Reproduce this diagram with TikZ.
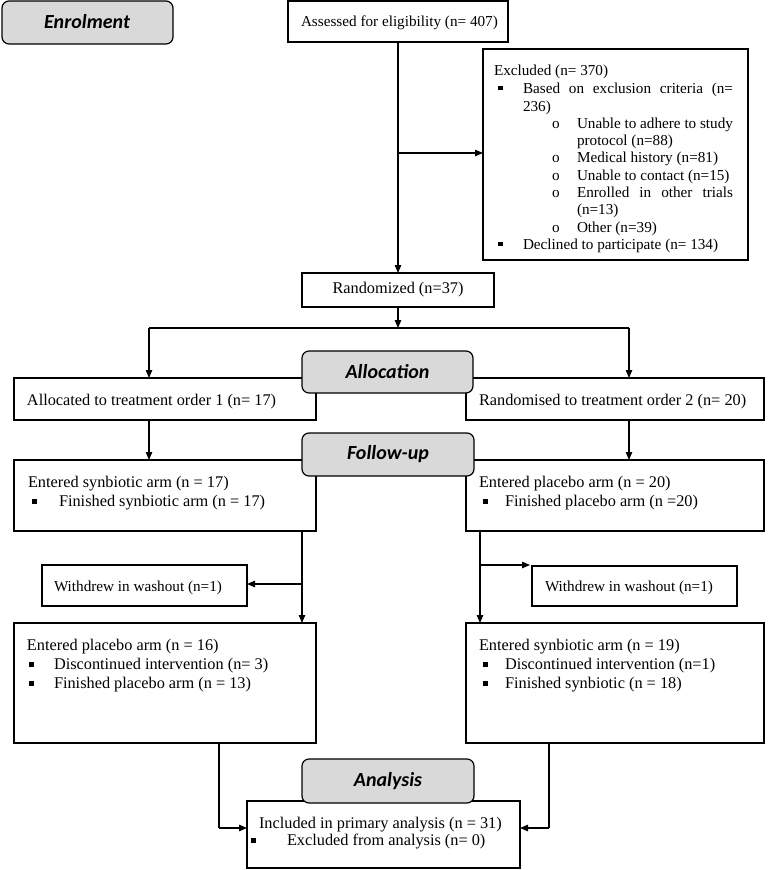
\documentclass[tikz,border=0pt]{standalone}
\usepackage{fontspec}
\setmainfont{Liberation Serif}
\newfontfamily\hdrfont{Carlito}
\usetikzlibrary{arrows.meta,calc}
\definecolor{hdrgray}{HTML}{D9D9D9}
\newcommand{\sqb}{\raisebox{2.6pt}{\rule{4.6pt}{4.6pt}}}
\newcommand{\fs}{\fontsize{16.3}{17.4}\selectfont}
\newcommand{\fsm}{\fontsize{15.2}{17.4}\selectfont}
\tikzset{
  boxr/.style={draw=black, line width=1.1pt, fill=white, inner sep=0pt, outer sep=0pt, anchor=north west},
  hdr/.style={draw=black, line width=1.2pt, fill=hdrgray, rounded corners=7pt, inner sep=0pt, outer sep=0pt, anchor=north west,
     font=\hdrfont\bfseries\itshape\fontsize{20}{22}\selectfont},
  txt/.style={inner sep=0pt, outer sep=0pt, anchor=base west, font=\fs},
  txts/.style={inner sep=0pt, outer sep=0pt, anchor=base west, font=\fsm},
  arr/.style={line width=1.1pt, -{Triangle[length=8pt,width=6.5pt]}},
  ln/.style={line width=1.1pt}
}
\begin{document}
\begin{tikzpicture}[x=1pt,y=-1pt]
\useasboundingbox (0,0) rectangle (768,870);
% boxes
\node[hdr, minimum width=171pt, minimum height=43pt] (enrol) at (2,1) {};
\node[font=\hdrfont\bfseries\itshape\fontsize{20}{22}\selectfont, inner sep=0pt] (enrolT) at (87,22) {Enrolment};
\node[boxr, minimum width=220pt, minimum height=41pt] (assess) at (288,1) {};
\node[boxr, minimum width=265pt, minimum height=211pt] (excl) at (483,49) {};
\node[boxr, minimum width=192pt, minimum height=34pt] (rand) at (302,273) {};
\node[boxr, minimum width=302pt, minimum height=42pt] (alloc1) at (14,378) {};
\node[boxr, minimum width=298pt, minimum height=42pt] (alloc2) at (466,378) {};
\node[boxr, minimum width=302pt, minimum height=71pt] (syn1) at (14,460) {};
\node[boxr, minimum width=298pt, minimum height=71pt] (plc1) at (466,460) {};
\node[boxr, minimum width=205pt, minimum height=41pt] (wd1) at (42,565) {};
\node[boxr, minimum width=205pt, minimum height=40pt] (wd2) at (532,566) {};
\node[boxr, minimum width=302pt, minimum height=120pt] (plc2) at (14,623) {};
\node[boxr, minimum width=298pt, minimum height=120pt] (syn2) at (466,623) {};
\node[boxr, minimum width=273pt, minimum height=67pt] (incl) at (247,801) {};
% headers
\node[hdr, minimum width=171pt, minimum height=42pt] (allochdr) at (302,351) {};
\node[hdr, minimum width=172pt, minimum height=43pt] (followhdr) at (302,433) {};
\node[hdr, minimum width=172pt, minimum height=44pt] (anahdr) at (302,759) {};
\node[font=\hdrfont\bfseries\itshape\fontsize{20}{22}\selectfont, inner sep=0pt] (allocT) at (allochdr.center) {Allocation};
\node[font=\hdrfont\bfseries\itshape\fontsize{20}{22}\selectfont, inner sep=0pt] (followT) at (followhdr.center) {Follow-up};
\node[font=\hdrfont\bfseries\itshape\fontsize{20}{22}\selectfont, inner sep=0pt] (anaT) at (anahdr.center) {Analysis};
% texts
\node[txts] (tAssess) at (301,26.5) {Assessed for eligibility (n= 407)};
\node[txts] (tE0) at (494,75) {Excluded (n= 370)};
\node[txts] (tE1b) at (498,93) {\sqb};
\node[txts] (tE1) at (523,93) {\makebox[210pt][s]{Based on exclusion criteria (n=}};
\node[txts] (tE2) at (523,111) {236)};
\node[txts] (tE3o) at (552,128) {o};
\node[txts] (tE3) at (577,128) {\makebox[156pt][s]{Unable to adhere to study}};
\node[txts] (tE4) at (577,145) {protocol (n=88)};
\node[txts] (tE5o) at (552,162) {o};
\node[txts] (tE5) at (577,162) {Medical history (n=81)};
\node[txts] (tE6o) at (552,180) {o};
\node[txts] (tE6) at (577,180) {Unable to contact (n=15)};
\node[txts] (tE7o) at (552,197) {o};
\node[txts] (tE7) at (577,197) {\makebox[156pt][s]{Enrolled in other trials}};
\node[txts] (tE8) at (577,214) {(n=13)};
\node[txts] (tE9o) at (552,232) {o};
\node[txts] (tE9) at (577,232) {Other (n=39)};
\node[txts] (tE10b) at (498,249) {\sqb};
\node[txts] (tE10) at (523,249) {Declined to participate (n= 134)};
\node[txt, anchor=center] (tRand) at (398,290) {Randomized (n=37)};
\node[txt] (tA1) at (27,405.5) {Allocated to treatment order 1 (n= 17)};
\node[txt] (tA2) at (479,405.5) {Randomised to treatment order 2 (n= 20)};
\node[txt] (tS1a) at (28,487.5) {Entered synbiotic arm (n = 17)};
\node[txt] (tS1bb) at (32,506.5) {\sqb};
\node[txt] (tS1b) at (59,506.5) {Finished synbiotic arm (n = 17)};
\node[txt] (tP1a) at (479,487.5) {Entered placebo arm (n = 20)};
\node[txt] (tP1bb) at (483,506.5) {\sqb};
\node[txt] (tP1b) at (505,506.5) {Finished placebo arm (n =20)};
\node[txts] (tW1) at (54,591) {Withdrew in washout (n=1)};
\node[txts] (tW2) at (545,591) {Withdrew in washout (n=1)};
\node[txt] (tP2a) at (27,650.5) {Entered placebo arm (n = 16)};
\node[txt] (tP2bb) at (29,669.5) {\sqb};
\node[txt] (tP2b) at (54,669.5) {Discontinued intervention (n= 3)};
\node[txt] (tP2cb) at (29,688.5) {\sqb};
\node[txt] (tP2c) at (54,688.5) {Finished placebo arm (n = 13)};
\node[txt] (tS2a) at (479,650.5) {Entered synbiotic arm (n = 19)};
\node[txt] (tS2bb) at (483,669.5) {\sqb};
\node[txt] (tS2b) at (505,669.5) {Discontinued intervention (n=1)};
\node[txt] (tS2cb) at (483,688.5) {\sqb};
\node[txt] (tS2c) at (505,688.5) {Finished synbiotic (n = 18)};
\node[txt] (tI1) at (259,828.5) {Included in primary analysis (n = 31)};
\node[txt] (tI2b) at (251,845.5) {\sqb};
\node[txt] (tI2) at (287,845.5) {Excluded from analysis (n= 0)};
% connectors
\coordinate (br0) at (398,153);
\draw[arr] (assess.south) -- (rand.north);
\draw[arr] (br0) -- (br0 -| excl.west);
\coordinate (split) at (398,328);
\coordinate (splitL) at (149,328);
\coordinate (splitR) at (629,328);
\draw[arr] (rand.south) -- (split);
\draw[ln] (splitL) -- (splitR);
\draw[arr] (splitL) -- (splitL |- alloc1.north);
\draw[arr] (splitR) -- (splitR |- alloc2.north);
\draw[arr] (alloc1.south -| splitL) -- (splitL |- syn1.north);
\draw[arr] (alloc2.south -| splitR) -- (splitR |- plc1.north);
\coordinate (dL) at (302,584);
\draw[arr] (syn1.south -| dL) -- (dL |- plc2.north);
\draw[arr] (dL) -- (dL -| wd1.east);
\coordinate (dR) at (480,565);
\draw[arr] (plc1.south -| dR) -- (dR |- syn2.north);
\draw[arr] (dR) -- (530,565);
\coordinate (jL) at (219,828);
\coordinate (jR) at (549,828);
\draw[ln] (plc2.south -| jL) -- (jL);
\draw[arr] (jL) -- (jL -| incl.west);
\draw[ln] (syn2.south -| jR) -- (jR);
\draw[arr] (jR) -- (jR -| incl.east);
\end{tikzpicture}
\end{document}
